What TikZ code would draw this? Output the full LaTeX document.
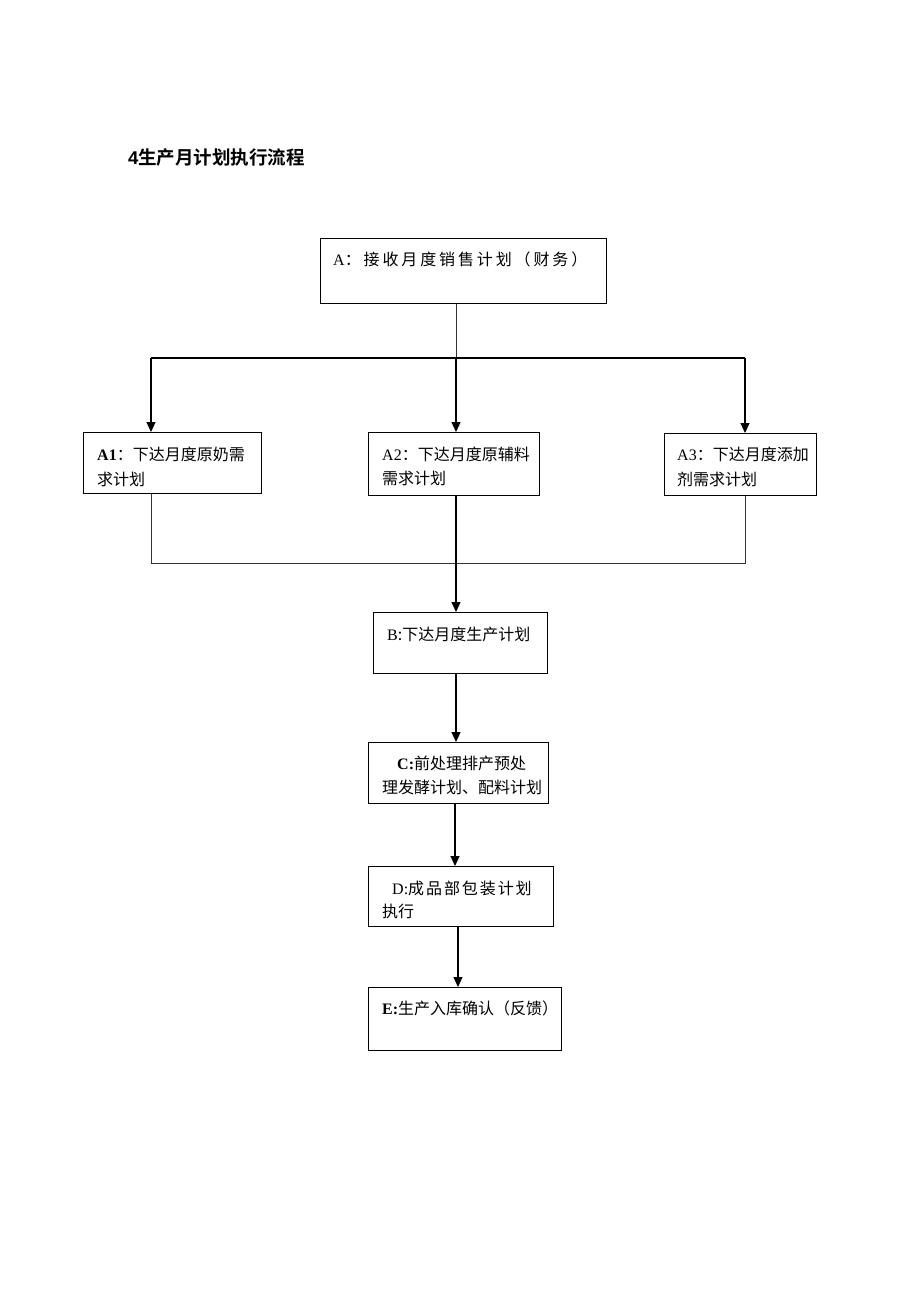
\documentclass[tikz,border=0pt]{standalone}
\usepackage{fontspec}
\setmainfont{Liberation Serif}
\newfontfamily\cjk{Noto Sans CJK SC}
\newfontfamily\cjkA[LetterSpace=18]{Noto Sans CJK SC}
\newfontfamily\cjkD[LetterSpace=12]{Noto Sans CJK SC}
\newfontfamily\cjkT[BoldFont={Noto Sans CJK SC Bold}]{Noto Sans CJK SC}
\newfontfamily\titlelat{Liberation Sans}
\usetikzlibrary{arrows.meta}
\begin{document}
\begin{tikzpicture}[x=1pt,y=-1pt,
  box/.style={draw, line width=1.3pt, inner sep=0pt, anchor=north west},
  lbl/.style={anchor=base west, inner sep=0pt, font=\fontsize{16}{19}\selectfont},
  conn/.style={line width=1.1pt},
  thinconn/.style={line width=0.9pt, black!80},
  arr/.style={conn, -{Triangle[length=10pt,width=9pt]}}]
\useasboundingbox (0,0) rectangle (920,1302);
\fill[white] (0,0) rectangle (920,1302);

% title
\node[anchor=base west, inner sep=0pt, font=\fontsize{18.5}{21}\selectfont\bfseries] (title) at (128,164)
  {{\titlelat 4}{\cjkT 生产月计划执行流程}};

% boxes
\node[box, minimum width=286pt, minimum height=65pt] (A)  at (320,238) {};
\node[box, minimum width=178pt, minimum height=61pt] (A1) at (83,432) {};
\node[box, minimum width=171pt, minimum height=63pt] (A2) at (368,432) {};
\node[box, minimum width=152pt, minimum height=62pt] (A3) at (664,433) {};
\node[box, minimum width=174pt, minimum height=61pt] (B)  at (373,612) {};
\node[box, minimum width=180pt, minimum height=61pt] (C)  at (368,742) {};
\node[box, minimum width=185pt, minimum height=60pt] (D)  at (368,866) {};
\node[box, minimum width=193pt, minimum height=63pt] (E)  at (368,987) {};

% texts
\node[lbl] (tA) at (333,265) {A{\cjkA ：接收月度销售计划（财务）}};
\node[lbl] (tA1a) at (97,460) {\textbf{A1}{\cjk ：下达月度原奶需}};
\node[lbl] (tA1b) at (97,485) {\cjk 求计划};
\node[lbl] (tA2a) at (382,460) {A2{\cjk ：下达月度原辅料}};
\node[lbl] (tA2b) at (382,484) {\cjk 需求计划};
\node[lbl] (tA3a) at (677,460) {A3{\cjk ：下达月度添加}};
\node[lbl] (tA3b) at (677,485) {\cjk 剂需求计划};
\node[lbl] (tB) at (387,640) {B{\cjk :下达月度生产计划}};
\node[lbl] (tCa) at (397,769) {\textbf{C:}{\cjk 前处理排产预处}};
\node[lbl] (tCb) at (382,793) {\cjk 理发酵计划、配料计划};
\node[lbl] (tDa) at (392,894) {D:{\cjkD 成品部包装计划}};
\node[lbl] (tDb) at (382,917) {\cjk 执行};
\node[lbl] (tE) at (382,1014) {\textbf{E:}{\cjk 生产入库确认（反馈）}};

% junction coordinates
\coordinate (hL) at (151,358);
\coordinate (hR) at (745,358);
\coordinate (jT) at (456,358);
\coordinate (bL) at (151,563);
\coordinate (bR) at (745,563);
\coordinate (jB) at (456,563);
\coordinate (xC) at (456,0);
\coordinate (xD) at (455,0);
\coordinate (xE) at (458,0);

% connectors
\draw[thinconn] (jT |- A.south) -- (jT);
\draw[conn, line width=1.5pt] (hL) -- (hR);
\draw[arr] (jT) -- (jT |- A2.north);
\draw[arr] (hL) -- (hL |- A1.north);
\draw[arr] (hR) -- (hR |- A3.north);
\draw[thinconn] (hL |- A1.south) -- (bL) -- (bR) -- (hR |- A3.south);
\draw[arr] (jB |- A2.south) -- (jB |- B.north);
\draw[arr] (xC |- B.south) -- (xC |- C.north);
\draw[arr] (xD |- C.south) -- (xD |- D.north);
\draw[arr] (xE |- D.south) -- (xE |- E.north);
\end{tikzpicture}
\end{document}
